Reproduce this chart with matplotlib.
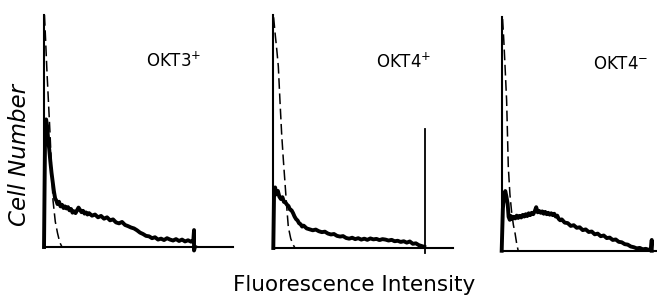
import matplotlib.pyplot as plt

plt.rcParams["font.family"] = ["DejaVu Sans"]
plt.rcParams["mathtext.fontset"] = "dejavusans"

# channel (0-100 = data range) and relative cell number (0-100 = top of axis)
labels = ["OKT3$^{+}$", "OKT4$^{+}$", "OKT4$^{-}$"]

x1 = [0, 0.7, 1.4, 2.1, 2.8, 3.5, 4.2, 5.0, 5.8, 6.6, 7.4, 8.2, 9.0, 10, 11, 12, 13, 14,
      15, 16, 17, 18, 19, 20, 21, 22, 23, 24, 25, 26, 27, 28, 29, 30, 32, 34, 36, 38, 40,
      42, 44, 46, 48, 50, 52, 54, 56, 58, 60, 62, 64, 66, 68, 70, 72, 74, 76, 78, 80, 82,
      84, 86, 88, 90, 92, 94, 96, 98, 99.5, 100, 100, 100.6]
y1 = [0, 48, 55, 52, 46, 42, 37, 32, 28, 24, 21, 20, 18.5, 19.5, 17.5, 18.2, 16.8, 17.5,
      16.6, 17.2, 15.8, 16.4, 14.8, 15.4, 14.6, 15.8, 17.0, 16.0, 15.0, 15.6, 14.4, 14.9,
      14.0, 14.6, 13.5, 14.0, 12.8, 13.4, 12.2, 12.8, 11.5, 11.9, 10.6, 10.2, 10.8, 9.5,
      9.0, 8.4, 8.0, 7.2, 6.2, 5.6, 4.8, 4.6, 3.8, 4.2, 3.2, 3.6, 3.0, 3.8, 3.2, 2.8, 3.4,
      2.6, 3.2, 2.4, 2.9, 2.3, 2.6, 7.3, -1.5, 0]
dx1 = [0.3, 1.0, 2.0, 3.0, 4.0, 5.0, 6.0, 7.5, 9.0, 10.5, 12.0]
dy1 = [100, 90, 75, 62, 49, 34, 20, 11, 6, 2, 0]

x2 = [0, 0.5, 1.2, 2, 3, 4, 5, 6, 7, 8, 9, 10, 11, 12, 13, 14, 15, 16, 17, 18, 19, 20,
      22, 24, 26, 28, 30, 32, 34, 36, 38, 40, 42, 44, 46, 48, 50, 52, 54, 56, 58, 60, 62,
      64, 66, 68, 70, 72, 74, 76, 78, 80, 82, 84, 86, 88, 90, 92, 94, 96, 98, 99.5]
y2 = [0, 24, 26, 23, 24.5, 22, 21, 21.8, 19.8, 19.5, 18.6, 18, 16.5, 16.2, 15, 13.5, 12.4,
      11.8, 10.6, 10.2, 9.2, 9.6, 8.4, 8.0, 7.6, 7.9, 7.2, 6.8, 7.0, 6.2, 5.8, 6.0, 5.2,
      4.9, 5.1, 4.3, 4.0, 4.4, 3.8, 4.2, 3.6, 4.0, 3.5, 4.1, 3.7, 3.9, 3.4, 3.8, 3.6, 3.2,
      3.5, 2.9, 3.1, 2.6, 2.9, 2.3, 2.8, 1.8, 2.0, 1.2, 0.8, 0.5]
spike2 = [-2, 51]
dx2 = [0.2, 1.2, 2.3, 3.3, 4.4, 5.5, 6.6, 7.7, 8.8, 9.9, 11.5, 13, 14.3]
dy2 = [99, 92, 85, 78, 63, 49, 38, 28, 18, 9, 4, 1.5, 0]

x3 = [0, 0.8, 1.6, 2.4, 3.2, 4.0, 4.6, 5.4, 6.2, 7, 8, 9, 10, 11, 12, 13, 14, 15, 16, 17,
      18, 19, 20, 21, 22, 23, 24, 25, 26, 27, 28, 29, 30, 31, 32, 33, 34, 35, 36, 37, 38,
      39, 40, 42, 44, 46, 48, 50, 52, 54, 56, 58, 60, 62, 64, 66, 68, 70, 72, 74, 76, 78,
      80, 82, 84, 86, 88, 90, 92, 94, 96, 98, 99.5, 100, 100]
y3 = [0, 18, 24, 25.5, 23, 20, 14.5, 13.2, 14.8, 13.6, 14.5, 13.8, 15.0, 14.0, 14.9, 14.2,
      15.3, 14.6, 15.6, 14.8, 16.0, 15.2, 16.2, 15.6, 16.8, 18.6, 16.4, 17.0, 16.2, 16.8,
      15.8, 16.6, 15.6, 16.2, 15.4, 16.0, 15.2, 15.8, 14.6, 15.0, 13.6, 13.0, 13.4, 12.0,
      11.8, 10.6, 10.9, 9.8, 10.0, 8.8, 9.1, 8.0, 8.2, 7.0, 7.3, 6.2, 6.5, 5.4, 5.6, 4.6,
      4.8, 3.8, 3.6, 2.8, 2.6, 1.8, 1.5, 1.0, 1.2, 0.6, 0.8, 0.4, 0.6, 4.6, 0]
dx3 = [0.6, 1.4, 2.3, 3.3, 4.4, 5.5, 6.7, 7.8, 8.9, 10, 11]
dy3 = [99, 90, 78, 64, 36, 24, 16, 11, 7.5, 3, 0]

fig = plt.figure(figsize=(6.57, 2.99), dpi=100)

rects = [(0.0670, 0.1739, 0.2877, 0.7759),
         (0.4160, 0.1706, 0.2740, 0.7793),
         (0.7636, 0.1615, 0.2364, 0.7826)]
xmax = [126, 118.7, 103.5]
label_pos = [(0.685, 0.80), (0.725, 0.80), (0.765, 0.80)]
solids = [(x1, y1), (x2, y2), (x3, y3)]
dashed = [(dx1, dy1), (dx2, dy2), (dx3, dy3)]

for i in range(3):
    ax = fig.add_axes(rects[i])
    ax.set_xlim(0, xmax[i])
    ax.set_ylim(0, 100)
    for s in ["top", "right"]:
        ax.spines[s].set_visible(False)
    for s in ["left", "bottom"]:
        ax.spines[s].set_linewidth(1.5)
    ax.set_xticks([])
    ax.set_yticks([])
    ax.patch.set_alpha(0)

    sx, sy = solids[i]
    ax.plot(sx, sy, color="black", lw=2.8, solid_joinstyle="round", clip_on=False)
    dxs, dys = dashed[i]
    ax.plot(dxs, dys, color="black", lw=1.1, dashes=(7, 3), clip_on=False)
    if i == 1:
        ax.plot([100, 100], spike2, color="black", lw=1.3, clip_on=False)

    ax.text(label_pos[i][0], label_pos[i][1], labels[i], transform=ax.transAxes,
            ha="center", va="center", fontsize=12)

fig.text(0.0304, 0.4816, "Cell Number", rotation=90, ha="center", va="center",
         fontsize=16.5, style="italic")
fig.text(0.539, 0.047, "Fluorescence Intensity", ha="center", va="center", fontsize=15.5)

fig.savefig("out.png", dpi=100)
